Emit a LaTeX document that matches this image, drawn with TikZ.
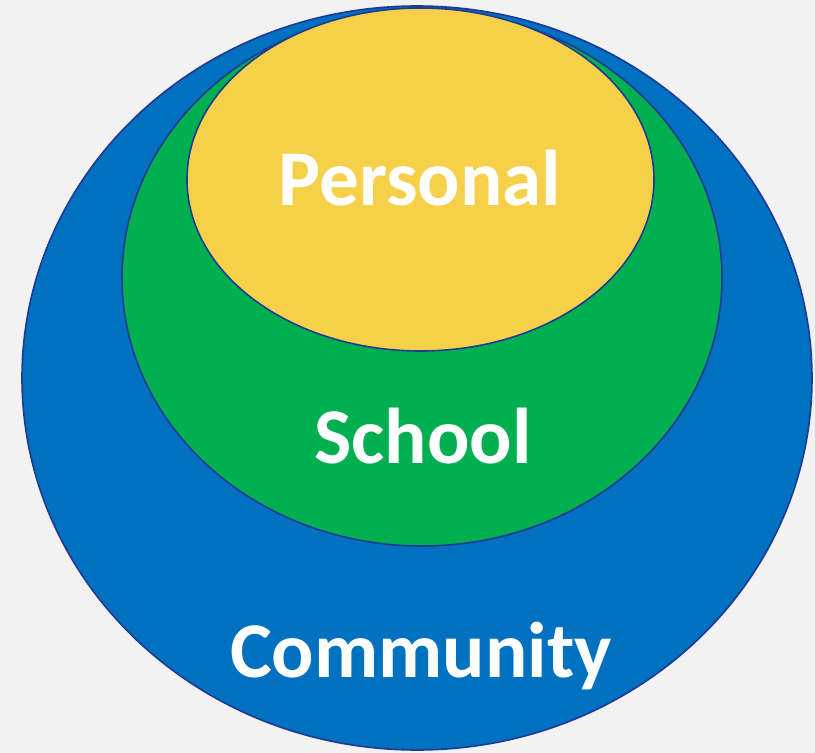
\documentclass[tikz,border=0pt]{standalone}
\usepackage{fontspec}
\setmainfont{Carlito}
\usetikzlibrary{shapes.geometric}
\definecolor{bgc}{HTML}{F2F2F2}
\definecolor{blueC}{HTML}{0070C0}
\definecolor{greenC}{HTML}{00B050}
\definecolor{yellowC}{HTML}{F7D04A}
\definecolor{edgeC}{HTML}{1F3A93}
\tikzset{
  ring/.style={ellipse, draw=edgeC, line width=1.6pt, inner sep=0pt},
  lbl/.style={text=white, font=\fontsize{79}{79}\selectfont\bfseries, anchor=base, inner sep=0pt}
}
\begin{document}
\begin{tikzpicture}[x=1pt,y=-1pt]
\fill[bgc] (0,0) rectangle (815,753);
\useasboundingbox (0,0) rectangle (815,753);
\node[ring, fill=blueC, minimum width=790pt, minimum height=744pt] (community) at (417,378) {};
\node[ring, fill=greenC, minimum width=600pt, minimum height=536pt] (school) at (422,278) {};
\node[ring, fill=yellowC, minimum width=467pt, minimum height=343pt] (personal) at (420.5,179.5) {};
\node[lbl] (tp) at (420,205) {Personal};
\node[lbl] (ts) at (423,463) {School};
\node[lbl] (tc) at (421,677) {Community};
\end{tikzpicture}
\end{document}
